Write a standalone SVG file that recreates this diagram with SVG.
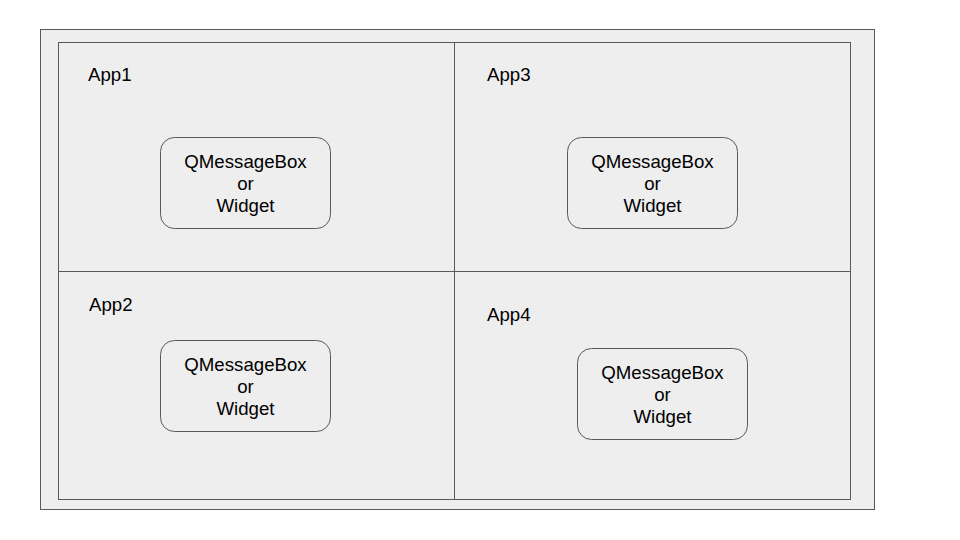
<svg xmlns="http://www.w3.org/2000/svg" width="960" height="540" viewBox="0 0 960 540">
<style>
.frame{fill:#eeeeee;stroke:#595959;stroke-width:1}
.box{fill:#eeeeee;stroke:#595959;stroke-width:1}
.line{stroke:#595959;stroke-width:1;fill:none}
text{font-family:"Liberation Sans",Arial,sans-serif;font-size:18.67px;fill:#000}
.c{text-anchor:middle}
</style>
<rect width="960" height="540" fill="#ffffff"/>
<g id="outer"><rect class="frame" x="40.5" y="29.5" width="834" height="480"/></g>
<g id="inner"><rect class="frame" x="58.5" y="42.5" width="792" height="457"/></g>
<g id="connectors">
<line class="line" x1="454.5" y1="42.5" x2="454.5" y2="499.5"/>
<line class="line" x1="58.5" y1="271.5" x2="850.5" y2="271.5"/>
</g>
<g id="app1"><text x="88" y="81">App1</text></g>
<g id="app3"><text x="487" y="81">App3</text></g>
<g id="app2"><text x="89" y="311">App2</text></g>
<g id="app4"><text x="487" y="321">App4</text></g>
<g id="box1"><rect class="box" x="160.5" y="137.5" width="170" height="91" rx="14"/>
<text class="c" x="245.5" y="168">QMessageBox</text><text class="c" x="245.5" y="190">or</text><text class="c" x="245.5" y="212">Widget</text></g>
<g id="box3"><rect class="box" x="567.5" y="137.5" width="170" height="91" rx="14"/>
<text class="c" x="652.5" y="168">QMessageBox</text><text class="c" x="652.5" y="190">or</text><text class="c" x="652.5" y="212">Widget</text></g>
<g id="box2"><rect class="box" x="160.5" y="340.5" width="170" height="91" rx="14"/>
<text class="c" x="245.5" y="371">QMessageBox</text><text class="c" x="245.5" y="393">or</text><text class="c" x="245.5" y="415">Widget</text></g>
<g id="box4"><rect class="box" x="577.5" y="348.5" width="170" height="91" rx="14"/>
<text class="c" x="662.5" y="379">QMessageBox</text><text class="c" x="662.5" y="401">or</text><text class="c" x="662.5" y="423">Widget</text></g>
</svg>
